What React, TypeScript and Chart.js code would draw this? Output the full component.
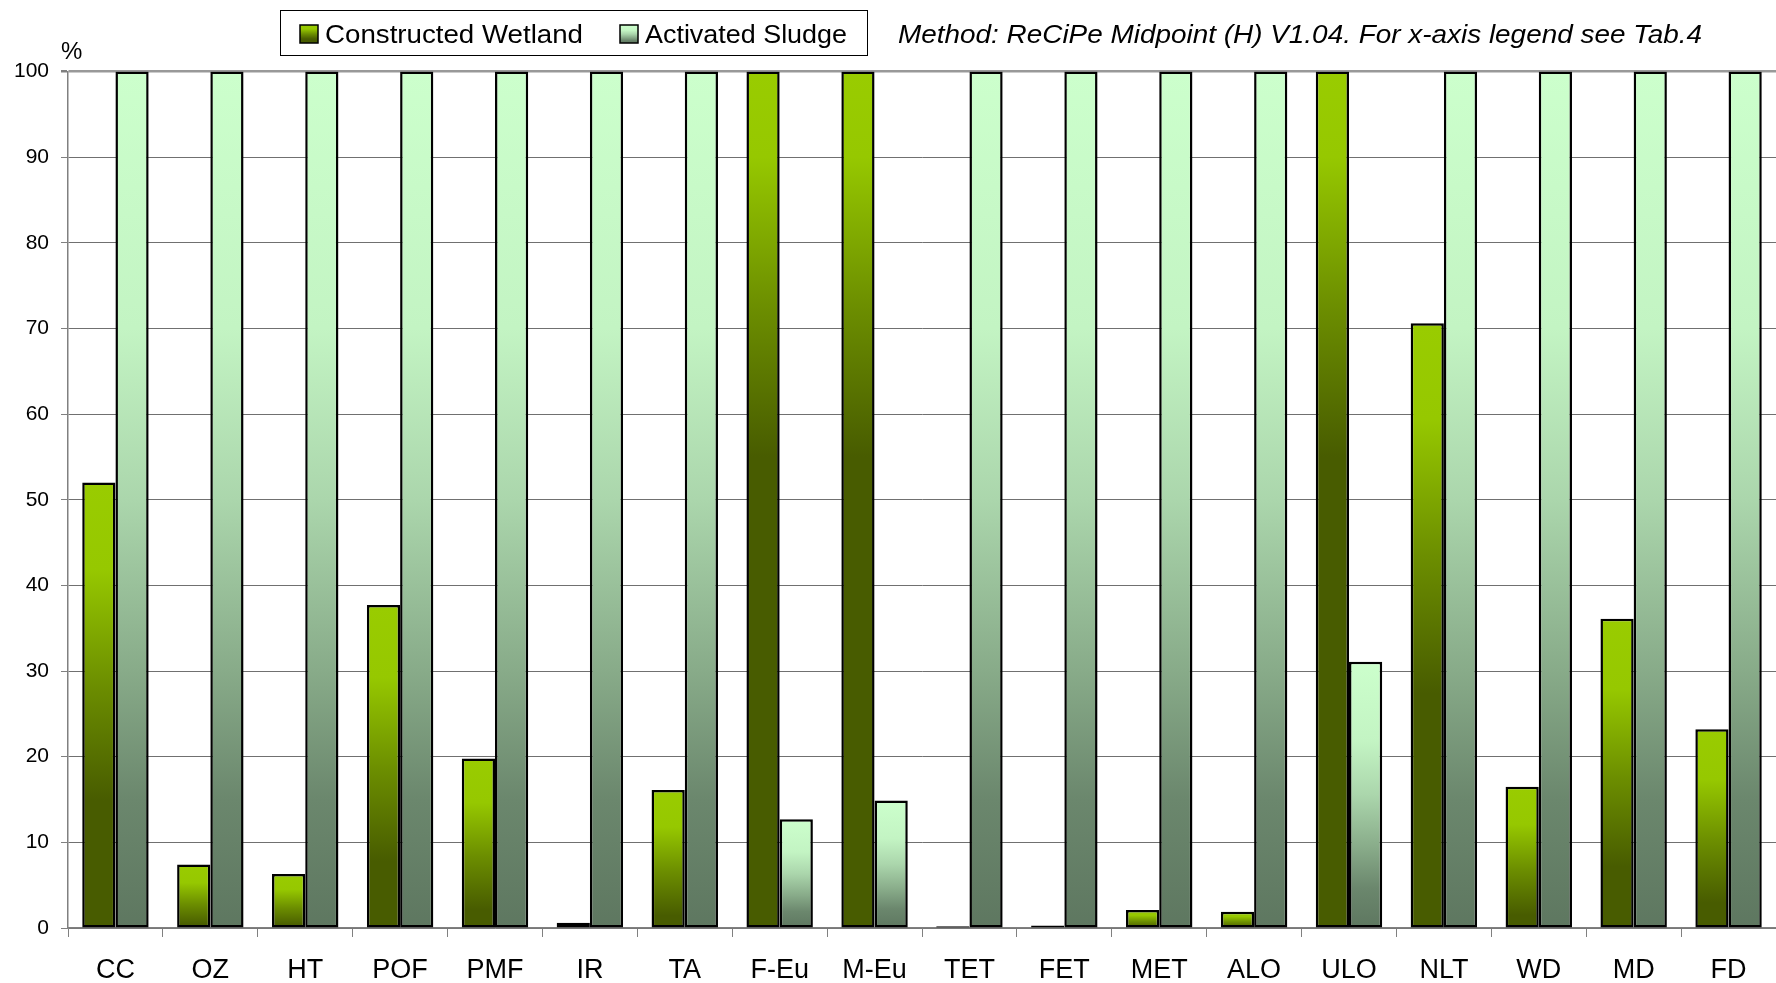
import React, { useEffect, useRef } from "react";
import { Chart, registerables } from "chart.js";

Chart.register(...registerables);

const categories = ["CC", "OZ", "HT", "POF", "PMF", "IR", "TA", "F-Eu", "M-Eu", "TET", "FET", "MET", "ALO", "ULO", "NLT", "WD", "MD", "FD"];
const constructedWetland = [52.0, 7.4, 6.3, 37.7, 19.8, 0.6, 16.1, 100, 100, 0.2, 0.3, 2.1, 1.9, 100, 70.6, 16.5, 36.1, 23.2];
const activatedSludge = [100, 100, 100, 100, 100, 100, 100, 12.7, 14.9, 100, 100, 100, 100, 31.1, 100, 100, 100, 100];
const seriesLabels = ["Constructed Wetland", "Activated Sludge"];
const yMin = 0;
const yMax = 100;
const yStep = 10;
const yUnit = "%";
const subtitle = "Method: ReCiPe Midpoint (H) V1.04. For x-axis legend see Tab.4";

const CW_LIGHT = [0x99, 0xcc, 0x00];
const CW_DARK = [0x48, 0x5c, 0x00];
const AS_LIGHT = [0xcc, 0xff, 0xcc];
const AS_DARK = [0x5e, 0x77, 0x60];
const FONT = "'Liberation Sans', Arial, Helvetica, sans-serif";

function mix(a: number[], b: number[], t: number) {
  const c = a.map((v, i) => Math.round(v + (b[i] - v) * t));
  return `rgb(${c[0]},${c[1]},${c[2]})`;
}

const AS_STOPS = [
  [0, 0],
  [0.3, 0.08],
  [0.5, 0.3],
  [0.7, 0.62],
  [0.85, 0.88],
  [1, 1],
];

function makeGradient(ctx: CanvasRenderingContext2D, top: number, bottom: number, light: number[], dark: number[], stops: number[][]) {
  if (bottom - top < 1) return mix(light, dark, 0.9);
  const g = ctx.createLinearGradient(0, top, 0, bottom);
  stops.forEach(([p, t]) => g.addColorStop(p, mix(light, dark, t)));
  return g;
}

function cwStops(h: number) {
  // h = bar height fraction of the full axis (0..1)
  const pStart = Math.max(0.05, 0.3 - 0.2 * h);
  const pEnd = Math.min(1, 1 - 0.55 * h);
  const mid = (pStart + pEnd) / 2;
  return [
    [0, 0],
    [pStart, 0.04],
    [mid, 0.55],
    [pEnd, 1],
    [1, 1],
  ];
}

function scriptedFill(kind: "cw" | "as") {
  const light = kind === "cw" ? CW_LIGHT : AS_LIGHT;
  const dark = kind === "cw" ? CW_DARK : AS_DARK;
  return (c: any) => {
    const chart = c.chart;
    const { ctx, chartArea, scales } = chart;
    if (!chartArea || c.type !== "data" || !scales.y) return mix(light, dark, 0.3);
    const top = scales.y.getPixelForValue(c.raw);
    const bottom = scales.y.getPixelForValue(0);
    const stops = kind === "cw" ? cwStops(c.raw / yMax) : AS_STOPS;
    return makeGradient(ctx, top, bottom, light, dark, stops);
  };
}

function drawStretched(ctx: CanvasRenderingContext2D, text: string, x: number, y: number, targetW: number) {
  const w = ctx.measureText(text).width;
  ctx.save();
  ctx.translate(x, y);
  ctx.scale(targetW / w, 1);
  ctx.fillText(text, 0, 0);
  ctx.restore();
}

const decorPlugin = {
  id: "decor",
  afterDraw(chart: any) {
    const ctx: CanvasRenderingContext2D = chart.ctx;
    ctx.save();
    ctx.strokeStyle = "#000";
    ctx.lineWidth = 1;
    ctx.fillStyle = "#fff";
    ctx.fillRect(280.5, 10.5, 587, 45);
    ctx.strokeRect(280.5, 10.5, 587, 45);
    const items = [
      { sx: 300, tx: 325, tw: 258, light: CW_LIGHT, dark: CW_DARK, stops: cwStops(0.4) },
      { sx: 620, tx: 645, tw: 202, light: AS_LIGHT, dark: AS_DARK, stops: AS_STOPS },
    ];
    ctx.font = `25px ${FONT}`;
    ctx.textBaseline = "alphabetic";
    items.forEach((it, i) => {
      ctx.fillStyle = makeGradient(ctx, 25, 43, it.light, it.dark, it.stops) as any;
      ctx.fillRect(it.sx, 25, 18, 18);
      ctx.lineWidth = 1.5;
      ctx.strokeStyle = "#000";
      ctx.strokeRect(it.sx, 25, 18, 18);
      ctx.fillStyle = "#000";
      drawStretched(ctx, chart.data.datasets[i].label, it.tx, 42.5, it.tw);
    });
    ctx.font = `italic 25px ${FONT}`;
    ctx.fillStyle = "#000";
    drawStretched(ctx, subtitle, 898, 42.5, 804);
    ctx.font = `24px ${FONT}`;
    ctx.fillText(yUnit, 61, 59);
    ctx.restore();
  },
};

export default function App() {
  const ref = useRef<HTMLCanvasElement>(null);

  useEffect(() => {
    document.body.style.margin = "0";
    document.body.style.overflow = "hidden";
    const canvas = ref.current;
    if (!canvas) return;
    const chart = new Chart(canvas, {
      type: "bar",
      data: {
        labels: categories,
        datasets: [
          {
            label: seriesLabels[0],
            data: constructedWetland,
            backgroundColor: scriptedFill("cw"),
            borderColor: "#000",
            borderWidth: 2.5,
            borderSkipped: false,
            categoryPercentage: 0.7,
            barPercentage: 1.0,
          },
          {
            label: seriesLabels[1],
            data: activatedSludge,
            backgroundColor: scriptedFill("as"),
            borderColor: "#000",
            borderWidth: 2.5,
            borderSkipped: false,
            categoryPercentage: 0.7,
            barPercentage: 1.0,
          },
        ],
      },
      options: {
        animation: false,
        responsive: true,
        maintainAspectRatio: false,
        layout: { padding: { top: 71.5, left: 0, right: 0, bottom: 0 } },
        plugins: {
          legend: { display: false },
          title: { display: false },
          tooltip: { enabled: false },
        },
        scales: {
          x: {
            offset: true,
            afterFit: (s: any) => {
              s.height = 55;
            },
            grid: {
              offset: true,
              drawOnChartArea: false,
              drawTicks: true,
              tickLength: 9,
              tickColor: "#808080",
              tickWidth: 1,
            },
            border: { display: true, color: "#808080", width: 1.5 },
            ticks: {
              color: "#000",
              font: { family: FONT, size: 27 },
              padding: 17,
              maxRotation: 0,
              autoSkip: false,
            },
          },
          y: {
            min: yMin,
            max: yMax,
            afterFit: (s: any) => {
              s.width = 68;
            },
            grid: {
              color: (c: any) => (c.tick && c.tick.value === yMax ? "#999999" : "#707070"),
              lineWidth: (c: any) => (c.tick && c.tick.value === yMax ? 2.5 : 1),
              drawTicks: true,
              tickLength: 7,
              tickColor: "#808080",
            },
            border: { display: true, color: "#808080", width: 1.5 },
            ticks: {
              stepSize: yStep,
              color: "#000",
              font: { family: FONT, size: 21 },
              padding: 12,
            },
          },
        },
      },
      plugins: [decorPlugin],
    } as any);
    return () => chart.destroy();
  }, []);

  return (
    <div style={{ width: 1776, height: 983, position: "relative", background: "#fff" }}>
      <canvas ref={ref} />
    </div>
  );
}
